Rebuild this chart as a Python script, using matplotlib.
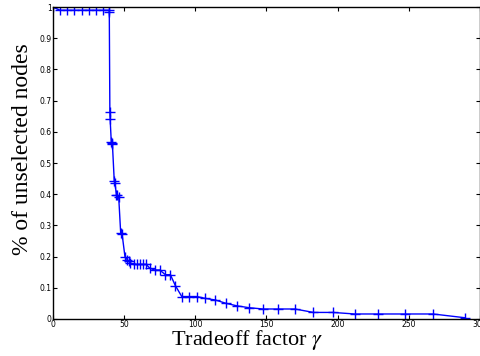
import matplotlib
matplotlib.use("Agg")
import matplotlib.pyplot as plt
from matplotlib.ticker import FuncFormatter

plt.rcParams["mathtext.fontset"] = "stix"

# tradeoff factor gamma vs fraction of unselected nodes
gamma = [0, 5, 10, 15, 20.5, 25.3, 30, 35, 39.3, 39.6, 40, 40.2,
         41, 41.4, 41.8, 43.1, 43.6, 44.6, 45.2, 46.2, 47.6, 48.6,
         50.6, 52.2, 53.2, 54.2, 57, 59.2, 61.3, 63.4, 65.5, 68,
         71.5, 75, 79, 82.5, 86, 90.5, 95.7, 101, 107, 114, 121.7,
         129.4, 138, 147.7, 158, 170, 183, 196.6, 212, 228.5, 247,
         267, 289.3]
unselected = [1.0, 0.99, 0.99, 0.99, 0.99, 0.99, 0.99, 0.99, 0.99, 0.985,
              0.665, 0.641, 0.567, 0.563, 0.56, 0.441, 0.436, 0.398, 0.396,
              0.392, 0.276, 0.272, 0.2, 0.19, 0.185, 0.18, 0.175, 0.175,
              0.175, 0.175, 0.175, 0.163, 0.157, 0.157, 0.142, 0.142, 0.107,
              0.072, 0.072, 0.072, 0.066, 0.061, 0.05, 0.042, 0.036, 0.032,
              0.032, 0.032, 0.021, 0.021, 0.016, 0.016, 0.016, 0.016, 0.004]

fig = plt.figure(figsize=(4.81, 3.56), dpi=100)
ax = fig.add_axes([0.110, 0.104, 0.888, 0.876])

ax.plot(gamma, unselected, color="blue", lw=1.0, marker="+", ms=6.5, mew=1.0)

ax.set_xlim(0, 300)
ax.set_ylim(0, 1)
ax.set_xticks(range(0, 301, 50))
ax.set_yticks([i / 10 for i in range(11)])
ax.yaxis.set_major_formatter(FuncFormatter(lambda v, p: "%g" % round(v, 1)))
ax.tick_params(direction="in", length=3, width=0.8, labelsize=5.5,
               top=True, right=True, pad=1.0, colors="black")
for s in ax.spines.values():
    s.set_linewidth(1.0)

ax.set_xlabel(r"Tradeoff factor $\gamma$", family="Liberation Serif",
              fontsize=16)
ax.set_ylabel("% of unselected nodes", family="Liberation Serif",
              fontsize=17)
ax.xaxis.set_label_coords(0.455, -0.028)
ax.yaxis.set_label_coords(-0.047, 0.546)

fig.savefig("out.png", dpi=100)
